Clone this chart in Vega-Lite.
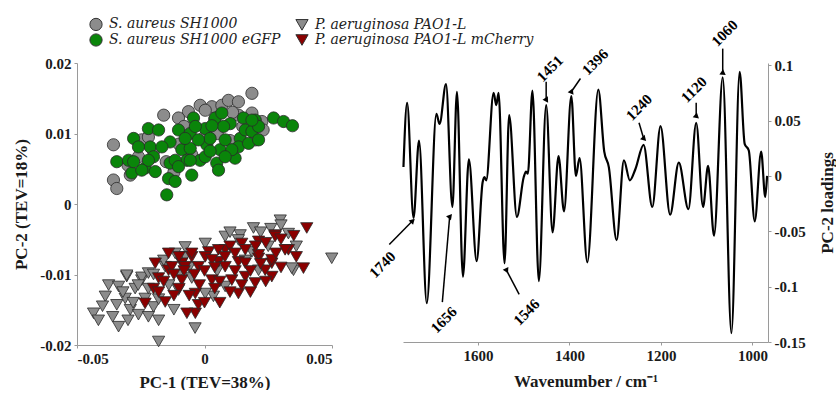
{
  "$schema": "https://vega.github.io/schema/vega-lite/v6.json",
  "background": "white",
  "padding": {"left": 12, "top": 17, "right": 0, "bottom": 0},
  "bounds": "flush",
  "spacing": 71,
  "config": {
    "view": {"stroke": null},
    "font": "Liberation Serif",
    "axis": {
      "grid": false, "domainColor": "#9a9a9a", "tickColor": "#9a9a9a", "tickSize": 3,
      "labelFont": "Liberation Serif", "labelFontSize": 15, "labelFontWeight": "bold", "labelColor": "#1a1a1a",
      "titleFont": "Liberation Serif", "titleFontSize": 17, "titleFontWeight": "bold", "titleColor": "#1a1a1a",
      "labelPadding": 3, "labelExpr": "toString(datum.value)"
    }
  },
  "datasets": {
    "scores": [
      {"group": "S. aureus SH1000", "pc1": -0.0357, "pc2": 0.0084},
      {"group": "S. aureus SH1000", "pc1": -0.0357, "pc2": 0.0034},
      {"group": "S. aureus SH1000", "pc1": -0.0344, "pc2": 0.0022},
      {"group": "S. aureus SH1000", "pc1": -0.0291, "pc2": 0.0041},
      {"group": "S. aureus SH1000", "pc1": -0.016, "pc2": 0.0126},
      {"group": "S. aureus SH1000", "pc1": -0.0017, "pc2": 0.014},
      {"group": "S. aureus SH1000", "pc1": 0.0029, "pc2": 0.0138},
      {"group": "S. aureus SH1000", "pc1": 0.0068, "pc2": 0.014},
      {"group": "S. aureus SH1000", "pc1": 0.0094, "pc2": 0.0147},
      {"group": "S. aureus SH1000", "pc1": 0.0133, "pc2": 0.0145},
      {"group": "S. aureus SH1000", "pc1": 0.0186, "pc2": 0.0157},
      {"group": "S. aureus SH1000", "pc1": -0.0063, "pc2": 0.0131},
      {"group": "S. aureus SH1000", "pc1": -0.0102, "pc2": 0.0122},
      {"group": "S. aureus SH1000", "pc1": 0.0199, "pc2": 0.0091},
      {"group": "S. aureus SH1000", "pc1": 0.0186, "pc2": 0.0129},
      {"group": "S. aureus SH1000", "pc1": 0.0225, "pc2": 0.0117},
      {"group": "S. aureus SH1000", "pc1": 0.0133, "pc2": 0.0126},
      {"group": "S. aureus SH1000", "pc1": 0.0003, "pc2": 0.0133},
      {"group": "S. aureus SH1000", "pc1": -0.0259, "pc2": 0.0067},
      {"group": "S. aureus SH1000", "pc1": -0.0246, "pc2": 0.0091},
      {"group": "S. aureus SH1000", "pc1": -0.02, "pc2": 0.0075},
      {"group": "S. aureus SH1000", "pc1": -0.015, "pc2": 0.006},
      {"group": "S. aureus SH1000", "pc1": -0.01, "pc2": 0.0085},
      {"group": "S. aureus SH1000", "pc1": -0.005, "pc2": 0.007},
      {"group": "S. aureus SH1000", "pc1": 0.0, "pc2": 0.0095},
      {"group": "S. aureus SH1000", "pc1": 0.005, "pc2": 0.01},
      {"group": "S. aureus SH1000", "pc1": 0.01, "pc2": 0.009},
      {"group": "S. aureus SH1000", "pc1": 0.015, "pc2": 0.011},
      {"group": "S. aureus SH1000", "pc1": -0.012, "pc2": 0.0045},
      {"group": "S. aureus SH1000", "pc1": -0.03, "pc2": 0.0055},
      {"group": "S. aureus SH1000", "pc1": 0.023, "pc2": 0.0105},
      {"group": "S. aureus SH1000", "pc1": -0.008, "pc2": 0.011},
      {"group": "S. aureus SH1000", "pc1": 0.004, "pc2": 0.012},
      {"group": "S. aureus SH1000", "pc1": -0.022, "pc2": 0.0095},
      {"group": "S. aureus SH1000", "pc1": 0.011, "pc2": 0.013},
      {"group": "S. aureus SH1000 eGFP", "pc1": -0.0344, "pc2": 0.006},
      {"group": "S. aureus SH1000 eGFP", "pc1": -0.0298, "pc2": 0.0062},
      {"group": "S. aureus SH1000 eGFP", "pc1": -0.0278, "pc2": 0.0093},
      {"group": "S. aureus SH1000 eGFP", "pc1": -0.0285, "pc2": 0.0044},
      {"group": "S. aureus SH1000 eGFP", "pc1": -0.0233, "pc2": 0.0051},
      {"group": "S. aureus SH1000 eGFP", "pc1": -0.022, "pc2": 0.0107},
      {"group": "S. aureus SH1000 eGFP", "pc1": -0.0213, "pc2": 0.0081},
      {"group": "S. aureus SH1000 eGFP", "pc1": -0.02, "pc2": 0.0067},
      {"group": "S. aureus SH1000 eGFP", "pc1": -0.018, "pc2": 0.0105},
      {"group": "S. aureus SH1000 eGFP", "pc1": -0.0141, "pc2": 0.0036},
      {"group": "S. aureus SH1000 eGFP", "pc1": -0.0148, "pc2": 0.0013},
      {"group": "S. aureus SH1000 eGFP", "pc1": -0.0135, "pc2": 0.0088},
      {"group": "S. aureus SH1000 eGFP", "pc1": -0.0135, "pc2": 0.0058},
      {"group": "S. aureus SH1000 eGFP", "pc1": -0.0115, "pc2": 0.0032},
      {"group": "S. aureus SH1000 eGFP", "pc1": -0.0102, "pc2": 0.0105},
      {"group": "S. aureus SH1000 eGFP", "pc1": -0.0089, "pc2": 0.0077},
      {"group": "S. aureus SH1000 eGFP", "pc1": -0.0069, "pc2": 0.0062},
      {"group": "S. aureus SH1000 eGFP", "pc1": -0.0056, "pc2": 0.01},
      {"group": "S. aureus SH1000 eGFP", "pc1": -0.0056, "pc2": 0.0079},
      {"group": "S. aureus SH1000 eGFP", "pc1": -0.0043, "pc2": 0.0122},
      {"group": "S. aureus SH1000 eGFP", "pc1": -0.005, "pc2": 0.0041},
      {"group": "S. aureus SH1000 eGFP", "pc1": -0.0017, "pc2": 0.0062},
      {"group": "S. aureus SH1000 eGFP", "pc1": 0.0003, "pc2": 0.0107},
      {"group": "S. aureus SH1000 eGFP", "pc1": 0.0009, "pc2": 0.0084},
      {"group": "S. aureus SH1000 eGFP", "pc1": 0.0022, "pc2": 0.0093},
      {"group": "S. aureus SH1000 eGFP", "pc1": 0.0042, "pc2": 0.0122},
      {"group": "S. aureus SH1000 eGFP", "pc1": 0.0048, "pc2": 0.0058},
      {"group": "S. aureus SH1000 eGFP", "pc1": 0.0055, "pc2": 0.0048},
      {"group": "S. aureus SH1000 eGFP", "pc1": 0.0061, "pc2": 0.0077},
      {"group": "S. aureus SH1000 eGFP", "pc1": 0.0068, "pc2": 0.0129},
      {"group": "S. aureus SH1000 eGFP", "pc1": 0.0081, "pc2": 0.0091},
      {"group": "S. aureus SH1000 eGFP", "pc1": 0.0101, "pc2": 0.0114},
      {"group": "S. aureus SH1000 eGFP", "pc1": 0.012, "pc2": 0.0065},
      {"group": "S. aureus SH1000 eGFP", "pc1": 0.014, "pc2": 0.0093},
      {"group": "S. aureus SH1000 eGFP", "pc1": 0.0153, "pc2": 0.0122},
      {"group": "S. aureus SH1000 eGFP", "pc1": 0.016, "pc2": 0.0105},
      {"group": "S. aureus SH1000 eGFP", "pc1": 0.0186, "pc2": 0.0103},
      {"group": "S. aureus SH1000 eGFP", "pc1": 0.0199, "pc2": 0.0119},
      {"group": "S. aureus SH1000 eGFP", "pc1": 0.0212, "pc2": 0.011},
      {"group": "S. aureus SH1000 eGFP", "pc1": 0.0271, "pc2": 0.0122},
      {"group": "S. aureus SH1000 eGFP", "pc1": 0.031, "pc2": 0.0117},
      {"group": "S. aureus SH1000 eGFP", "pc1": 0.0345, "pc2": 0.0111},
      {"group": "S. aureus SH1000 eGFP", "pc1": 0.0075, "pc2": 0.011},
      {"group": "S. aureus SH1000 eGFP", "pc1": 0.0029, "pc2": 0.0111},
      {"group": "S. aureus SH1000 eGFP", "pc1": -0.0024, "pc2": 0.0091},
      {"group": "S. aureus SH1000 eGFP", "pc1": -0.0076, "pc2": 0.0093},
      {"group": "S. aureus SH1000 eGFP", "pc1": -0.0167, "pc2": 0.0081},
      {"group": "S. aureus SH1000 eGFP", "pc1": -0.0259, "pc2": 0.0081},
      {"group": "S. aureus SH1000 eGFP", "pc1": -0.022, "pc2": 0.0062},
      {"group": "S. aureus SH1000 eGFP", "pc1": 0.0133, "pc2": 0.0081},
      {"group": "S. aureus SH1000 eGFP", "pc1": 0.0107, "pc2": 0.0077},
      {"group": "S. aureus SH1000 eGFP", "pc1": -0.0036, "pc2": 0.011},
      {"group": "S. aureus SH1000 eGFP", "pc1": -0.0115, "pc2": 0.0062},
      {"group": "S. aureus SH1000 eGFP", "pc1": 0.0003, "pc2": 0.0067},
      {"group": "S. aureus SH1000 eGFP", "pc1": 0.0173, "pc2": 0.0086},
      {"group": "S. aureus SH1000 eGFP", "pc1": 0.0081, "pc2": 0.0067},
      {"group": "S. aureus SH1000 eGFP", "pc1": -0.0102, "pc2": 0.0053},
      {"group": "S. aureus SH1000 eGFP", "pc1": -0.0193, "pc2": 0.0046},
      {"group": "S. aureus SH1000 eGFP", "pc1": -0.0246, "pc2": 0.0048},
      {"group": "S. aureus SH1000 eGFP", "pc1": -0.0278, "pc2": 0.006},
      {"group": "S. aureus SH1000 eGFP", "pc1": 0.0186, "pc2": 0.0119},
      {"group": "S. aureus SH1000 eGFP", "pc1": 0.0212, "pc2": 0.0091},
      {"group": "S. aureus SH1000 eGFP", "pc1": 0.0022, "pc2": 0.0075},
      {"group": "S. aureus SH1000 eGFP", "pc1": -0.0056, "pc2": 0.0062},
      {"group": "P. aeruginosa PAO1-L", "pc1": -0.0435, "pc2": -0.0155},
      {"group": "P. aeruginosa PAO1-L", "pc1": -0.0416, "pc2": -0.0165},
      {"group": "P. aeruginosa PAO1-L", "pc1": -0.0376, "pc2": -0.0115},
      {"group": "P. aeruginosa PAO1-L", "pc1": -0.0337, "pc2": -0.0117},
      {"group": "P. aeruginosa PAO1-L", "pc1": -0.0305, "pc2": -0.0103},
      {"group": "P. aeruginosa PAO1-L", "pc1": -0.0337, "pc2": -0.0174},
      {"group": "P. aeruginosa PAO1-L", "pc1": -0.0344, "pc2": -0.0143},
      {"group": "P. aeruginosa PAO1-L", "pc1": -0.0291, "pc2": -0.015},
      {"group": "P. aeruginosa PAO1-L", "pc1": -0.0259, "pc2": -0.0157},
      {"group": "P. aeruginosa PAO1-L", "pc1": -0.0246, "pc2": -0.0108},
      {"group": "P. aeruginosa PAO1-L", "pc1": -0.0233, "pc2": -0.0134},
      {"group": "P. aeruginosa PAO1-L", "pc1": -0.018, "pc2": -0.0195},
      {"group": "P. aeruginosa PAO1-L", "pc1": -0.02, "pc2": -0.0146},
      {"group": "P. aeruginosa PAO1-L", "pc1": -0.0037, "pc2": -0.0176},
      {"group": "P. aeruginosa PAO1-L", "pc1": 0.0035, "pc2": -0.0131},
      {"group": "P. aeruginosa PAO1-L", "pc1": 0.0499, "pc2": -0.0077},
      {"group": "P. aeruginosa PAO1-L", "pc1": 0.0349, "pc2": -0.0094},
      {"group": "P. aeruginosa PAO1-L", "pc1": 0.0297, "pc2": -0.0023},
      {"group": "P. aeruginosa PAO1-L", "pc1": 0.0192, "pc2": -0.0034},
      {"group": "P. aeruginosa PAO1-L", "pc1": 0.014, "pc2": -0.0044},
      {"group": "P. aeruginosa PAO1-L", "pc1": 0.0329, "pc2": -0.0042},
      {"group": "P. aeruginosa PAO1-L", "pc1": 0.0342, "pc2": -0.0091},
      {"group": "P. aeruginosa PAO1-L", "pc1": -0.0076, "pc2": -0.0075},
      {"group": "P. aeruginosa PAO1-L", "pc1": -0.0305, "pc2": -0.0101},
      {"group": "P. aeruginosa PAO1-L", "pc1": -0.0246, "pc2": -0.0104},
      {"group": "P. aeruginosa PAO1-L", "pc1": 0.0003, "pc2": -0.0056},
      {"group": "P. aeruginosa PAO1-L", "pc1": 0.0081, "pc2": -0.0046},
      {"group": "P. aeruginosa PAO1-L", "pc1": -0.0389, "pc2": -0.0131},
      {"group": "P. aeruginosa PAO1-L", "pc1": -0.0311, "pc2": -0.0134},
      {"group": "P. aeruginosa PAO1-L", "pc1": -0.0272, "pc2": -0.012},
      {"group": "P. aeruginosa PAO1-L", "pc1": -0.022, "pc2": -0.0098},
      {"group": "P. aeruginosa PAO1-L", "pc1": -0.0154, "pc2": -0.0089},
      {"group": "P. aeruginosa PAO1-L", "pc1": -0.0115, "pc2": -0.007},
      {"group": "P. aeruginosa PAO1-L", "pc1": -0.0076, "pc2": -0.0061},
      {"group": "P. aeruginosa PAO1-L", "pc1": 0.0133, "pc2": -0.0051},
      {"group": "P. aeruginosa PAO1-L", "pc1": 0.0186, "pc2": -0.0068},
      {"group": "P. aeruginosa PAO1-L", "pc1": -0.0102, "pc2": -0.0122},
      {"group": "P. aeruginosa PAO1-L", "pc1": 0.0003, "pc2": -0.0127},
      {"group": "P. aeruginosa PAO1-L", "pc1": 0.0081, "pc2": -0.0117},
      {"group": "P. aeruginosa PAO1-L", "pc1": 0.0212, "pc2": -0.0094},
      {"group": "P. aeruginosa PAO1-L", "pc1": -0.018, "pc2": -0.0165},
      {"group": "P. aeruginosa PAO1-L", "pc1": 0.025, "pc2": -0.006},
      {"group": "P. aeruginosa PAO1-L", "pc1": 0.005, "pc2": -0.0095},
      {"group": "P. aeruginosa PAO1-L", "pc1": -0.005, "pc2": -0.0105},
      {"group": "P. aeruginosa PAO1-L", "pc1": 0.016, "pc2": -0.008},
      {"group": "P. aeruginosa PAO1-L", "pc1": -0.04, "pc2": -0.0145},
      {"group": "P. aeruginosa PAO1-L", "pc1": -0.036, "pc2": -0.016},
      {"group": "P. aeruginosa PAO1-L", "pc1": -0.032, "pc2": -0.0125},
      {"group": "P. aeruginosa PAO1-L", "pc1": -0.028, "pc2": -0.014},
      {"group": "P. aeruginosa PAO1-L", "pc1": -0.03, "pc2": -0.0165},
      {"group": "P. aeruginosa PAO1-L", "pc1": -0.026, "pc2": -0.0115},
      {"group": "P. aeruginosa PAO1-L", "pc1": -0.022, "pc2": -0.012},
      {"group": "P. aeruginosa PAO1-L", "pc1": -0.018, "pc2": -0.0135},
      {"group": "P. aeruginosa PAO1-L", "pc1": -0.014, "pc2": -0.0115},
      {"group": "P. aeruginosa PAO1-L", "pc1": -0.01, "pc2": -0.01},
      {"group": "P. aeruginosa PAO1-L", "pc1": -0.006, "pc2": -0.009},
      {"group": "P. aeruginosa PAO1-L", "pc1": -0.02, "pc2": -0.01},
      {"group": "P. aeruginosa PAO1-L", "pc1": -0.016, "pc2": -0.008},
      {"group": "P. aeruginosa PAO1-L", "pc1": 0.01, "pc2": -0.004},
      {"group": "P. aeruginosa PAO1-L", "pc1": 0.022, "pc2": -0.004},
      {"group": "P. aeruginosa PAO1-L", "pc1": 0.026, "pc2": -0.0035},
      {"group": "P. aeruginosa PAO1-L", "pc1": 0.03, "pc2": -0.003},
      {"group": "P. aeruginosa PAO1-L", "pc1": 0.036, "pc2": -0.006},
      {"group": "P. aeruginosa PAO1-L", "pc1": -0.012, "pc2": -0.015},
      {"group": "P. aeruginosa PAO1-L", "pc1": -0.022, "pc2": -0.016},
      {"group": "P. aeruginosa PAO1-L mCherry", "pc1": 0.0401, "pc2": -0.0034},
      {"group": "P. aeruginosa PAO1-L mCherry", "pc1": 0.0388, "pc2": -0.0091},
      {"group": "P. aeruginosa PAO1-L mCherry", "pc1": 0.0277, "pc2": -0.0044},
      {"group": "P. aeruginosa PAO1-L mCherry", "pc1": 0.0329, "pc2": -0.0065},
      {"group": "P. aeruginosa PAO1-L mCherry", "pc1": 0.0212, "pc2": -0.0053},
      {"group": "P. aeruginosa PAO1-L mCherry", "pc1": 0.0146, "pc2": -0.0056},
      {"group": "P. aeruginosa PAO1-L mCherry", "pc1": 0.0081, "pc2": -0.0065},
      {"group": "P. aeruginosa PAO1-L mCherry", "pc1": 0.0016, "pc2": -0.0068},
      {"group": "P. aeruginosa PAO1-L mCherry", "pc1": -0.005, "pc2": -0.0075},
      {"group": "P. aeruginosa PAO1-L mCherry", "pc1": -0.0089, "pc2": -0.0084},
      {"group": "P. aeruginosa PAO1-L mCherry", "pc1": -0.0141, "pc2": -0.0094},
      {"group": "P. aeruginosa PAO1-L mCherry", "pc1": -0.0024, "pc2": -0.0089},
      {"group": "P. aeruginosa PAO1-L mCherry", "pc1": 0.0055, "pc2": -0.0082},
      {"group": "P. aeruginosa PAO1-L mCherry", "pc1": 0.0133, "pc2": -0.0082},
      {"group": "P. aeruginosa PAO1-L mCherry", "pc1": 0.0212, "pc2": -0.0077},
      {"group": "P. aeruginosa PAO1-L mCherry", "pc1": 0.0264, "pc2": -0.0084},
      {"group": "P. aeruginosa PAO1-L mCherry", "pc1": 0.0277, "pc2": -0.0046},
      {"group": "P. aeruginosa PAO1-L mCherry", "pc1": 0.0316, "pc2": -0.0065},
      {"group": "P. aeruginosa PAO1-L mCherry", "pc1": 0.0264, "pc2": -0.0079},
      {"group": "P. aeruginosa PAO1-L mCherry", "pc1": 0.0264, "pc2": -0.0103},
      {"group": "P. aeruginosa PAO1-L mCherry", "pc1": 0.0212, "pc2": -0.0072},
      {"group": "P. aeruginosa PAO1-L mCherry", "pc1": 0.016, "pc2": -0.0084},
      {"group": "P. aeruginosa PAO1-L mCherry", "pc1": 0.016, "pc2": -0.0103},
      {"group": "P. aeruginosa PAO1-L mCherry", "pc1": 0.0133, "pc2": -0.0127},
      {"group": "P. aeruginosa PAO1-L mCherry", "pc1": 0.0081, "pc2": -0.0089},
      {"group": "P. aeruginosa PAO1-L mCherry", "pc1": 0.0029, "pc2": -0.0108},
      {"group": "P. aeruginosa PAO1-L mCherry", "pc1": 0.0003, "pc2": -0.0075},
      {"group": "P. aeruginosa PAO1-L mCherry", "pc1": -0.0036, "pc2": -0.0127},
      {"group": "P. aeruginosa PAO1-L mCherry", "pc1": -0.0036, "pc2": -0.0155},
      {"group": "P. aeruginosa PAO1-L mCherry", "pc1": -0.0024, "pc2": -0.0143},
      {"group": "P. aeruginosa PAO1-L mCherry", "pc1": -0.0069, "pc2": -0.0155},
      {"group": "P. aeruginosa PAO1-L mCherry", "pc1": -0.0076, "pc2": -0.0089},
      {"group": "P. aeruginosa PAO1-L mCherry", "pc1": -0.0089, "pc2": -0.0108},
      {"group": "P. aeruginosa PAO1-L mCherry", "pc1": -0.0128, "pc2": -0.0089},
      {"group": "P. aeruginosa PAO1-L mCherry", "pc1": -0.0154, "pc2": -0.0139},
      {"group": "P. aeruginosa PAO1-L mCherry", "pc1": -0.018, "pc2": -0.0105},
      {"group": "P. aeruginosa PAO1-L mCherry", "pc1": -0.0233, "pc2": -0.0141},
      {"group": "P. aeruginosa PAO1-L mCherry", "pc1": 0.0146, "pc2": -0.0115},
      {"group": "P. aeruginosa PAO1-L mCherry", "pc1": 0.0199, "pc2": -0.0112},
      {"group": "P. aeruginosa PAO1-L mCherry", "pc1": 0.0238, "pc2": -0.0094},
      {"group": "P. aeruginosa PAO1-L mCherry", "pc1": 0.0029, "pc2": -0.0079},
      {"group": "P. aeruginosa PAO1-L mCherry", "pc1": 0.0055, "pc2": -0.0065},
      {"group": "P. aeruginosa PAO1-L mCherry", "pc1": -0.005, "pc2": -0.007},
      {"group": "P. aeruginosa PAO1-L mCherry", "pc1": -0.0141, "pc2": -0.007},
      {"group": "P. aeruginosa PAO1-L mCherry", "pc1": 0.0107, "pc2": -0.0108},
      {"group": "P. aeruginosa PAO1-L mCherry", "pc1": -0.0193, "pc2": -0.0084},
      {"group": "P. aeruginosa PAO1-L mCherry", "pc1": 0.01, "pc2": -0.006},
      {"group": "P. aeruginosa PAO1-L mCherry", "pc1": 0.018, "pc2": -0.0095},
      {"group": "P. aeruginosa PAO1-L mCherry", "pc1": -0.01, "pc2": -0.012},
      {"group": "P. aeruginosa PAO1-L mCherry", "pc1": 0.006, "pc2": -0.011},
      {"group": "P. aeruginosa PAO1-L mCherry", "pc1": -0.02, "pc2": -0.012},
      {"group": "P. aeruginosa PAO1-L mCherry", "pc1": -0.016, "pc2": -0.011},
      {"group": "P. aeruginosa PAO1-L mCherry", "pc1": -0.012, "pc2": -0.01},
      {"group": "P. aeruginosa PAO1-L mCherry", "pc1": -0.008, "pc2": -0.0095},
      {"group": "P. aeruginosa PAO1-L mCherry", "pc1": -0.004, "pc2": -0.01},
      {"group": "P. aeruginosa PAO1-L mCherry", "pc1": 0.0, "pc2": -0.0095},
      {"group": "P. aeruginosa PAO1-L mCherry", "pc1": 0.004, "pc2": -0.009},
      {"group": "P. aeruginosa PAO1-L mCherry", "pc1": 0.008, "pc2": -0.0075},
      {"group": "P. aeruginosa PAO1-L mCherry", "pc1": 0.012, "pc2": -0.007},
      {"group": "P. aeruginosa PAO1-L mCherry", "pc1": 0.016, "pc2": -0.0065},
      {"group": "P. aeruginosa PAO1-L mCherry", "pc1": 0.02, "pc2": -0.006},
      {"group": "P. aeruginosa PAO1-L mCherry", "pc1": 0.024, "pc2": -0.0055},
      {"group": "P. aeruginosa PAO1-L mCherry", "pc1": 0.03, "pc2": -0.005},
      {"group": "P. aeruginosa PAO1-L mCherry", "pc1": 0.035, "pc2": -0.0045},
      {"group": "P. aeruginosa PAO1-L mCherry", "pc1": 0.036, "pc2": -0.0075},
      {"group": "P. aeruginosa PAO1-L mCherry", "pc1": 0.03, "pc2": -0.009},
      {"group": "P. aeruginosa PAO1-L mCherry", "pc1": 0.024, "pc2": -0.011},
      {"group": "P. aeruginosa PAO1-L mCherry", "pc1": 0.018, "pc2": -0.0125},
      {"group": "P. aeruginosa PAO1-L mCherry", "pc1": 0.01, "pc2": -0.0125},
      {"group": "P. aeruginosa PAO1-L mCherry", "pc1": 0.004, "pc2": -0.012},
      {"group": "P. aeruginosa PAO1-L mCherry", "pc1": -0.002, "pc2": -0.0115},
      {"group": "P. aeruginosa PAO1-L mCherry", "pc1": -0.006, "pc2": -0.013},
      {"group": "P. aeruginosa PAO1-L mCherry", "pc1": -0.012, "pc2": -0.013},
      {"group": "P. aeruginosa PAO1-L mCherry", "pc1": -0.018, "pc2": -0.0125},
      {"group": "P. aeruginosa PAO1-L mCherry", "pc1": 0.0, "pc2": -0.014},
      {"group": "P. aeruginosa PAO1-L mCherry", "pc1": 0.006, "pc2": -0.014},
      {"group": "P. aeruginosa PAO1-L mCherry", "pc1": -0.01, "pc2": -0.0075},
      {"group": "P. aeruginosa PAO1-L mCherry", "pc1": 0.012, "pc2": -0.0095},
      {"group": "P. aeruginosa PAO1-L mCherry", "pc1": 0.022, "pc2": -0.0085},
      {"group": "P. aeruginosa PAO1-L mCherry", "pc1": 0.028, "pc2": -0.007}
    ],
    "spectrum": [
      {"w": 1763, "v": 0.008}, {"w": 1755, "v": 0.066}, {"w": 1741, "v": -0.038}, {"w": 1729, "v": 0.032},
      {"w": 1712, "v": -0.115}, {"w": 1691, "v": 0.056}, {"w": 1684, "v": 0.047}, {"w": 1670, "v": 0.083},
      {"w": 1656, "v": -0.028}, {"w": 1646, "v": 0.076}, {"w": 1633, "v": -0.091}, {"w": 1620, "v": 0.015},
      {"w": 1603, "v": -0.077}, {"w": 1590, "v": -0.006}, {"w": 1586, "v": -0.001}, {"w": 1582, "v": -0.004},
      {"w": 1566, "v": 0.075}, {"w": 1560, "v": 0.064}, {"w": 1555, "v": 0.075}, {"w": 1542, "v": -0.079},
      {"w": 1532, "v": 0.055}, {"w": 1515, "v": -0.037}, {"w": 1500, "v": -0.001}, {"w": 1495, "v": 0.004},
      {"w": 1491, "v": 0.002}, {"w": 1481, "v": 0.077}, {"w": 1467, "v": -0.095}, {"w": 1451, "v": 0.064},
      {"w": 1437, "v": -0.051}, {"w": 1424, "v": 0.018}, {"w": 1412, "v": -0.032}, {"w": 1396, "v": 0.072},
      {"w": 1386, "v": 0.0}, {"w": 1378, "v": 0.016}, {"w": 1361, "v": -0.078}, {"w": 1337, "v": 0.078},
      {"w": 1324, "v": 0.022}, {"w": 1314, "v": 0.008}, {"w": 1297, "v": -0.058}, {"w": 1281, "v": 0.014},
      {"w": 1268, "v": -0.004}, {"w": 1256, "v": 0.006}, {"w": 1238, "v": 0.028}, {"w": 1219, "v": -0.028},
      {"w": 1201, "v": 0.045}, {"w": 1180, "v": -0.035}, {"w": 1161, "v": 0.012}, {"w": 1140, "v": -0.03},
      {"w": 1123, "v": 0.048}, {"w": 1108, "v": -0.028}, {"w": 1097, "v": 0.009}, {"w": 1084, "v": -0.054},
      {"w": 1065, "v": 0.089}, {"w": 1046, "v": -0.142}, {"w": 1028, "v": 0.094}, {"w": 1017, "v": 0.029},
      {"w": 1008, "v": 0.023}, {"w": 995, "v": -0.041}, {"w": 981, "v": 0.022}, {"w": 972, "v": -0.019},
      {"w": 968, "v": 0.0}
    ],
    "peaks": [
      {"label": "1740", "tw": 1809, "tv": -0.08, "w1": 1794, "v1": -0.062, "w2": 1744, "v2": -0.041},
      {"label": "1656", "tw": 1675, "tv": -0.13, "w1": 1678, "v1": -0.114, "w2": 1662, "v2": -0.037},
      {"label": "1546", "tw": 1494, "tv": -0.123, "w1": 1510, "v1": -0.107, "w2": 1538, "v2": -0.085},
      {"label": "1451", "tw": 1443, "tv": 0.097, "w1": 1451, "v1": 0.085, "w2": 1451, "v2": 0.069},
      {"label": "1396", "tw": 1344, "tv": 0.103, "w1": 1376, "v1": 0.088, "w2": 1396, "v2": 0.076},
      {"label": "1240", "tw": 1248, "tv": 0.062, "w1": 1248, "v1": 0.048, "w2": 1238, "v2": 0.034},
      {"label": "1120", "tw": 1128, "tv": 0.078, "w1": 1123, "v1": 0.066, "w2": 1123, "v2": 0.054},
      {"label": "1060", "tw": 1061, "tv": 0.129, "w1": 1065, "v1": 0.115, "w2": 1065, "v2": 0.093}
    ]
  },
  "hconcat": [
    {
      "width": 255,
      "height": 282,
      "data": {"name": "scores"},
      "mark": {"type": "point", "filled": true, "opacity": 1, "stroke": "#2a2a2a", "strokeWidth": 0.8},
      "encoding": {
        "x": {"field": "pc1", "type": "quantitative", "scale": {"domain": [-0.05, 0.05], "nice": false, "zero": false},
              "axis": {"title": "PC-1 (TEV=38%)", "values": [-0.05, 0, 0.05], "titlePadding": 8}},
        "y": {"field": "pc2", "type": "quantitative", "scale": {"domain": [-0.02, 0.02], "nice": false, "zero": false},
              "axis": {"title": "PC-2 (TEV=18%)", "values": [-0.02, -0.01, 0, 0.01, 0.02], "titlePadding": 9}},
        "size": {"field": "group", "type": "nominal", "legend": null,
          "scale": {"domain": ["S. aureus SH1000", "S. aureus SH1000 eGFP", "P. aeruginosa PAO1-L", "P. aeruginosa PAO1-L mCherry"],
                    "range": [150, 150, 185, 185]}},
        "color": {"field": "group", "type": "nominal",
          "scale": {"domain": ["S. aureus SH1000", "S. aureus SH1000 eGFP", "P. aeruginosa PAO1-L", "P. aeruginosa PAO1-L mCherry"],
                    "range": ["#8c8c8c", "#0a850a", "#8c8c8c", "#8b0000"]},
          "legend": {"title": null, "orient": "none", "legendX": 12, "legendY": -46, "columns": 2, "labelFont": "DejaVu Serif", "labelFontStyle": "italic", "labelFontSize": 14, "labelColor": "#222", "labelLimit": 0, "symbolSize": 150, "symbolStrokeColor": "#333", "symbolStrokeWidth": 1, "rowPadding": -2, "columnPadding": 12, "labelOffset": 6}},
        "shape": {"field": "group", "type": "nominal",
          "scale": {"domain": ["S. aureus SH1000", "S. aureus SH1000 eGFP", "P. aeruginosa PAO1-L", "P. aeruginosa PAO1-L mCherry"],
                    "range": ["circle", "circle", "triangle-down", "triangle-down"]},
          "legend": {"title": null, "orient": "none", "legendX": 12, "legendY": -46, "columns": 2, "labelFont": "DejaVu Serif", "labelFontStyle": "italic", "labelFontSize": 14, "labelColor": "#222", "labelLimit": 0, "symbolSize": 150, "symbolStrokeColor": "#333", "symbolStrokeWidth": 1, "rowPadding": -2, "columnPadding": 12, "labelOffset": 6}}
      }
    },
    {
      "width": 365,
      "height": 279,
      "layer": [
        {
          "data": {"name": "spectrum"},
          "mark": {"type": "line", "color": "black", "strokeWidth": 2.2, "interpolate": "monotone"},
          "encoding": {
            "x": {"field": "w", "type": "quantitative", "scale": {"domain": [966, 1764], "reverse": true, "nice": false, "zero": false},
                  "axis": {"title": "Wavenumber / cm⁻¹", "values": [1600, 1400, 1200, 1000], "titlePadding": 10}},
            "y": {"field": "v", "type": "quantitative", "scale": {"domain": [-0.15, 0.102], "nice": false, "zero": false},
                  "axis": {"title": "PC-2 loadings", "orient": "right", "values": [-0.15, -0.1, -0.05, 0, 0.05, 0.1], "titleAngle": 270, "titleBaseline": "top", "titlePadding": 14}}
          }
        },
        {
          "data": {"name": "peaks"},
          "mark": {"type": "rule", "color": "black", "strokeWidth": 1.5},
          "encoding": {
            "x": {"field": "w1", "type": "quantitative"},
            "x2": {"field": "w2"},
            "y": {"field": "v1", "type": "quantitative"},
            "y2": {"field": "v2"}
          }
        },
        {
          "data": {"name": "peaks"},
          "mark": {"type": "point", "shape": "triangle", "filled": true, "color": "black", "opacity": 1, "size": 40},
          "encoding": {
            "x": {"field": "w2", "type": "quantitative"},
            "y": {"field": "v2", "type": "quantitative"},
            "angle": {"field": "label", "type": "nominal", "legend": null,
              "scale": {"domain": ["1740", "1656", "1546", "1451", "1396", "1240", "1120", "1060"], "range": [45, 5, 332, 180, 214, 163, 180, 180]}}
          }
        },
        {
          "data": {"name": "peaks"},
          "mark": {"type": "text", "font": "Liberation Serif", "fontWeight": "bold", "fontSize": 15, "angle": 315, "align": "center", "baseline": "middle", "color": "black"},
          "encoding": {
            "x": {"field": "tw", "type": "quantitative"},
            "y": {"field": "tv", "type": "quantitative"},
            "text": {"field": "label"}
          }
        }
      ]
    }
  ]
}
